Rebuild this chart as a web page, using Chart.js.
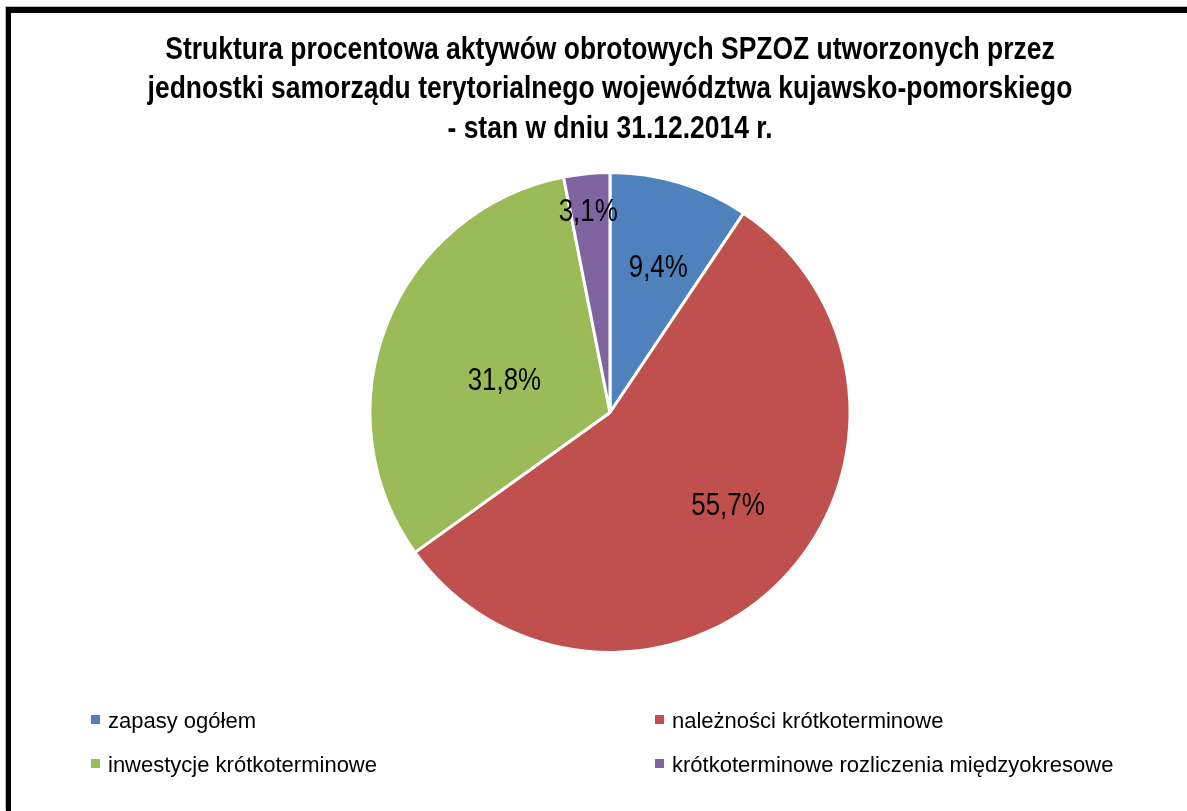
<!DOCTYPE html>
<html>
<head>
<meta charset="utf-8">
<script src="https://cdn.jsdelivr.net/npm/chart.js@4.4.1/dist/chart.umd.min.js"></script>
<style>
    html, body { margin: 0; padding: 0; background: #fff; overflow: hidden; width: 1187px; height: 811px; }
    #frame {
        position: absolute; left: 6px; top: 7px;
        width: 1198px; height: 798px;
        border-left: 5px solid #000; border-top: 6px solid #000;
        box-shadow: -1px -1px 0 #bbb;
    }
    #chartBox { position: absolute; left: 0; top: 0; width: 1198px; height: 798px; }
    .legend-item {
        position: absolute; height: 24px; line-height: 24px;
        font-family: "Liberation Sans", Arial, sans-serif; font-size: 22px; color: #000;
        white-space: nowrap;
    }
    .legend-item span.box { position: absolute; left: 0; top: 6px; width: 9px; height: 9px; }
    .legend-item span.txt { position: absolute; left: 17px; top: 0; }
</style>
</head>
<body>
<div id="frame">
    <div id="chartBox"><canvas id="pieChart"></canvas></div>
</div>
<div id="legend"></div>
<script>
// Dane
const categories = ['zapasy ogółem', 'należności krótkoterminowe', 'inwestycje krótkoterminowe', 'krótkoterminowe rozliczenia międzyokresowe'];
const shares = [9.4, 55.7, 31.8, 3.1];
const sliceColors = ['#4F81BD', '#C0504D', '#9BBB59', '#8064A2'];
const titleLines = [
    'Struktura procentowa aktywów obrotowych SPZOZ utworzonych przez',
    'jednostki samorządu terytorialnego województwa kujawsko-pomorskiego',
    '- stan w dniu 31.12.2014 r.'
];

const sans = '"Liberation Sans", Arial, sans-serif';

// condensed text: no narrow font installed, so squeeze horizontally
function narrowText(ctx, txt, x, y, sx) {
    ctx.save();
    ctx.translate(x, y);
    ctx.scale(sx, 1);
    ctx.fillText(txt, 0, 0);
    ctx.restore();
}

const narrowTitle = {
    id: 'narrowTitle',
    afterDraw(chart, args, opts) {
        const ctx = chart.ctx;
        ctx.save();
        ctx.font = 'bold ' + opts.size + 'px ' + sans;
        ctx.fillStyle = '#000';
        ctx.textAlign = 'center';
        ctx.textBaseline = 'alphabetic';
        opts.lines.forEach((line, i) => {
            narrowText(ctx, line, chart.width / 2, opts.top + i * opts.lineHeight, opts.squeeze);
        });
        ctx.restore();
    }
};

// label placement inside slices: [radius fraction, angle shift in degrees]
const pieLabels = {
    id: 'pieLabels',
    afterDatasetsDraw(chart, args, opts) {
        const ctx = chart.ctx;
        const meta = chart.getDatasetMeta(0);
        ctx.save();
        ctx.font = opts.size + 'px ' + sans;
        ctx.fillStyle = '#000';
        ctx.textAlign = 'center';
        ctx.textBaseline = 'middle';
        meta.data.forEach((arc, i) => {
            const p = arc.getProps(['x', 'y', 'startAngle', 'endAngle', 'outerRadius'], true);
            const place = opts.place[i];
            const a = (p.startAngle + p.endAngle) / 2 + place[1] * Math.PI / 180;
            const r = p.outerRadius * place[0];
            const txt = chart.data.datasets[0].data[i].toFixed(1).replace('.', ',') + '%';
            narrowText(ctx, txt, p.x + Math.cos(a) * r, p.y + Math.sin(a) * r + 1, opts.squeeze);
        });
        ctx.restore();
    }
};

function buildLegend(chart) {
    const holder = document.getElementById('legend');
    holder.innerHTML = '';
    const cols = [91, 655];
    const rows = [709, 753];
    chart.data.labels.forEach((lbl, i) => {
        const item = document.createElement('div');
        item.className = 'legend-item';
        item.style.left = cols[i % 2] + 'px';
        item.style.top = rows[Math.floor(i / 2)] + 'px';
        item.innerHTML = '<span class="box" style="background:' + chart.data.datasets[0].backgroundColor[i] + '"></span><span class="txt"></span>';
        item.querySelector('.txt').textContent = lbl;
        holder.appendChild(item);
    });
}

const ctx = document.getElementById('pieChart').getContext('2d');
const chart = new Chart(ctx, {
    type: 'pie',
    data: {
        labels: categories,
        datasets: [{
            data: shares,
            backgroundColor: sliceColors,
            borderColor: '#ffffff',
            borderWidth: 3
        }]
    },
    options: {
        responsive: true,
        maintainAspectRatio: false,
        animation: false,
        layout: { padding: { top: 158, bottom: 157 } },
        plugins: {
            legend: { display: false },
            tooltip: { enabled: false },
            title: { display: false },
            narrowTitle: {
                lines: titleLines,
                size: 31.5,
                lineHeight: 39.5,
                top: 45.5,
                squeeze: 0.84
            },
            pieLabels: {
                size: 32,
                squeeze: 0.81,
                place: [[0.64, 1.4], [0.625, -6], [0.46, -4.6], [0.845, -0.6]]
            }
        }
    },
    plugins: [narrowTitle, pieLabels]
});
buildLegend(chart);
</script>
</body>
</html>
